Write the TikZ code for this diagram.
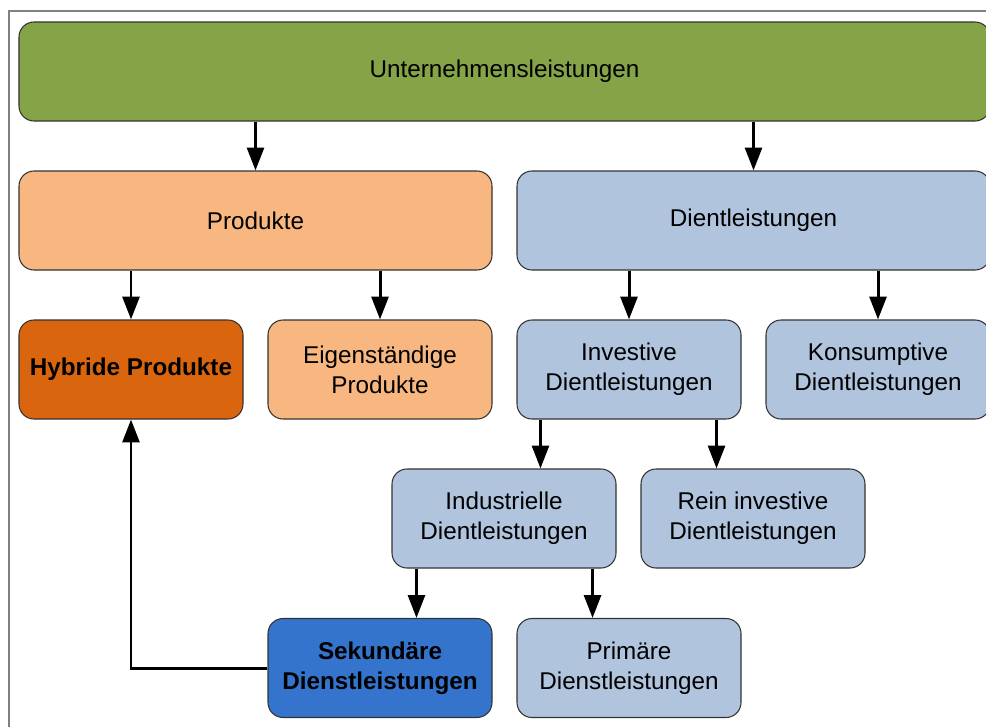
\documentclass[tikz,border=0pt]{standalone}
\usepackage{fontspec}
\setmainfont{Liberation Sans}
\usepackage{xcolor}
\usepackage{tikz}
\usetikzlibrary{arrows.meta}

\definecolor{kopfgruen}{HTML}{85A347}
\definecolor{prodorange}{HTML}{F8B780}
\definecolor{hybridorange}{HTML}{D9660F}
\definecolor{dlgrau}{HTML}{B0C4DE}
\definecolor{sekblau}{HTML}{3474CD}

\begin{document}
\begin{tikzpicture}[
        x=1cm, y=1cm, font=\fontsize{13.8}{17}\selectfont,
        every node/.style={align=center, inner sep=3pt},
        box/.style    ={rectangle, rounded corners=0.3cm, draw=black!80,
                        line width=0.6pt, minimum height=1.98cm},
        head/.style   ={box, fill=kopfgruen, minimum width=19.42cm},
        prodbox/.style={box, fill=prodorange, minimum width=4.48cm},
        hybbox/.style ={box, fill=hybridorange, font=\fontsize{13.8}{17}\selectfont\bfseries,
                        minimum width=4.48cm},
        dlbox/.style  ={box, fill=dlgrau, minimum width=4.48cm},
        sekbox/.style ={box, fill=sekblau, font=\fontsize{13.8}{17}\selectfont\bfseries,
                        minimum width=4.48cm},
        wide/.style   ={minimum width=9.46cm},
        flow/.style   ={-{Triangle[length=13pt,width=9.6pt]},
                        line width=1.7pt, color=black},
    ]
        \clip (0,0) rectangle (19.72,-14.52);
        % Rahmen
        \draw[line width=0.85pt, color=black!50] (0.18,-0.22) rectangle (20.5,-15);

        % ===================== Ebene 1 =====================
        \node[head]          (un)   at (10.09, -1.43) {Unternehmensleistungen};

        % ===================== Ebene 2 =====================
        \node[prodbox, wide] (prod) at ( 5.11, -4.41) {Produkte};
        \node[dlbox, wide]   (dl)   at (15.07, -4.41) {Dientleistungen};

        % ===================== Ebene 3 =====================
        \node[hybbox]        (hyb)  at ( 2.62, -7.39) {Hybride Produkte};
        \node[prodbox]       (eig)  at ( 7.60, -7.39) {Eigenständige\\Produkte};
        \node[dlbox]         (inv)  at (12.58, -7.39) {Investive\\Dientleistungen};
        \node[dlbox]         (kon)  at (17.56, -7.39) {Konsumptive\\Dientleistungen};

        % ===================== Ebene 4 =====================
        \node[dlbox]         (ind)  at (10.08,-10.37) {Industrielle\\Dientleistungen};
        \node[dlbox]         (rein) at (15.06,-10.37) {Rein investive\\Dientleistungen};

        % ===================== Ebene 5 =====================
        \node[sekbox]        (sek)  at ( 7.60,-13.36) {Sekundäre\\Dienstleistungen};
        \node[dlbox]         (pri)  at (12.58,-13.36) {Primäre\\Dienstleistungen};

        % Abzweigpunkte unter Investive/Industrielle
        \coordinate (inv1) at ([xshift=0.48cm]inv.south west);
        \coordinate (inv2) at ([xshift=-0.50cm]inv.south east);
        \coordinate (ind1) at ([xshift=0.50cm]ind.south west);
        \coordinate (ind2) at ([xshift=-0.48cm]ind.south east);

        % ===================== Pfeile =====================
        \draw[flow] (un.south -| prod.north) -- (prod.north);
        \draw[flow] (un.south -| dl.north) -- (dl.north);
        \draw[flow] (prod.south -| hyb.north) -- (hyb.north);
        \draw[flow] (prod.south -| eig.north) -- (eig.north);
        \draw[flow] (dl.south -| inv.north) -- (inv.north);
        \draw[flow] (dl.south -| kon.north) -- (kon.north);
        \draw[flow] (inv1) -- (inv1 |- ind.north);
        \draw[flow] (inv2) -- (inv2 |- rein.north);
        \draw[flow] (ind1) -- (ind1 |- sek.north);
        \draw[flow] (ind2) -- (ind2 |- pri.north);

        % Rückführung zu hybriden Produkten.
        \draw[flow] (sek.west) -| (hyb.south);
    \end{tikzpicture}
\end{document}
